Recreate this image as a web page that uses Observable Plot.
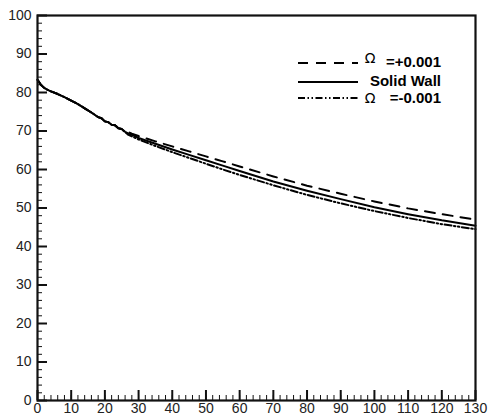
<!DOCTYPE html>
<html>
<head>
<meta charset="utf-8">
<script src="https://cdn.jsdelivr.net/npm/d3@7"></script>
<script src="https://cdn.jsdelivr.net/npm/@observablehq/plot@0.6"></script>
<style>
  html, body { margin: 0; padding: 0; background: #fff; }
  #chart { position: relative; width: 488px; height: 419px; }
</style>
</head>
<body>
<div id="chart"></div>
<script>
// Streamwise positions shared by all three profiles
const xs = [0, 1, 2, 3, 4, 6, 8, 10, 12, 14, 16, 18, 19, 20, 21, 22, 23, 24, 25,
            26, 27, 28, 30, 35, 40, 45, 50, 55, 60, 70, 80, 90, 100, 110, 120, 130];

// Profiles: Ω = +0.001, solid wall, Ω = -0.001
const omegaPlus = [83.3, 82.0, 81.2, 80.7, 80.3, 79.6, 78.8, 77.9, 77.0, 75.9, 74.8, 73.6, 73.3, 72.5, 72.3, 71.6, 71.5, 70.7, 70.5,
                   70.0, 69.7, 69.3, 68.7, 67.3, 66.0, 64.7, 63.4, 62.1, 60.8, 58.2, 55.8, 53.7, 51.7, 49.9, 48.4, 47.0];
const solidWall = [83.3, 82.0, 81.2, 80.7, 80.3, 79.6, 78.8, 77.9, 77.0, 75.9, 74.8, 73.6, 73.3, 72.5, 72.3, 71.6, 71.5, 70.7, 70.5,
                   69.8, 69.3, 69.0, 68.2, 66.7, 65.2, 63.8, 62.4, 61.0, 59.6, 56.9, 54.5, 52.3, 50.2, 48.4, 46.8, 45.4];
const omegaMinus = [83.3, 82.0, 81.2, 80.7, 80.3, 79.6, 78.8, 77.9, 77.0, 75.9, 74.8, 73.6, 73.3, 72.5, 72.3, 71.6, 71.5, 70.7, 70.5,
                    69.7, 69.0, 68.6, 67.8, 66.1, 64.5, 63.0, 61.5, 60.0, 58.6, 55.9, 53.4, 51.2, 49.2, 47.4, 45.8, 44.5];

const xTicks = d3.range(0, 131, 10);
const yTicks = d3.range(0, 101, 10);
const xMinor = d3.range(0, 131, 2);
const yMinor = d3.range(0, 101, 2);

const dashPlus = "10,8";
const dashMinus = "7,2.5,1.5,2.5,1.5,2.5";

// legend rows: sample line y, text baseline, Ω baseline (if any)
const legendItems = [
  {text: "=+0.001", dash: dashPlus, lineY: 63, textY: 67, omegaY: 63},
  {text: "Solid Wall", dash: null, lineY: 82, textY: 86, omegaY: null},
  {text: "=-0.001", dash: dashMinus, lineY: 98, textY: 103, omegaY: 103}
];

const series = [
  {ys: omegaPlus, dash: dashPlus},
  {ys: solidWall, dash: null},
  {ys: omegaMinus, dash: dashMinus}
];

const W = 488, H = 419;
const M = {top: 15, right: 13, bottom: 19, left: 37};
const plotH = H - M.top - M.bottom;
const plotW = W - M.left - M.right;

const lineMarks = series.map(s =>
  Plot.line(xs.map((x, i) => ({x, y: s.ys[i]})), {
    x: "x", y: "y", stroke: "#000", strokeWidth: 2,
    strokeDasharray: s.dash, strokeLinejoin: "round"
  })
);

const chart = Plot.plot({
  width: W, height: H,
  marginTop: M.top, marginRight: M.right, marginBottom: M.bottom, marginLeft: M.left,
  style: {fontFamily: "'Liberation Sans', Arial, sans-serif", fontSize: "14px", background: "#fff"},
  x: {domain: [0, 130]},
  y: {domain: [0, 100]},
  marks: [
    // inward tick marks
    Plot.ruleX(xMinor, {x: d => d, insetTop: plotH - 5, stroke: "#111", strokeWidth: 1}),
    Plot.ruleX(xTicks, {x: d => d, insetTop: plotH - 10, stroke: "#111", strokeWidth: 2}),
    Plot.ruleY(yMinor, {y: d => d, insetRight: plotW - 5, stroke: "#111", strokeWidth: 1}),
    Plot.ruleY(yTicks, {y: d => d, insetRight: plotW - 10, stroke: "#111", strokeWidth: 2}),
    Plot.axisX({ticks: xTicks, tickSize: 0, tickPadding: 3, label: null, fill: "#222", fontSize: 14}),
    Plot.axisY({ticks: yTicks, tickSize: 0, tickPadding: 6, label: null, fill: "#222", fontSize: 14}),
    ...lineMarks,
    Plot.frame({stroke: "#111", strokeWidth: 2.2})
  ]
});

document.getElementById("chart").appendChild(chart);

// Legend in the upper right of the frame
const svg = d3.select(chart);
const lg = svg.append("g").attr("font-family", "'Liberation Sans', Arial, sans-serif");
legendItems.forEach(d => {
  lg.append("line")
    .attr("x1", 298).attr("x2", 358).attr("y1", d.lineY).attr("y2", d.lineY)
    .attr("stroke", "#000").attr("stroke-width", 2)
    .attr("stroke-dasharray", d.dash);
  lg.append("text")
    .attr("x", 441).attr("y", d.textY)
    .attr("text-anchor", "end")
    .attr("font-size", 15).attr("font-weight", "bold").attr("fill", "#000")
    .text(d.text);
  if (d.omegaY != null) {
    lg.append("text")
      .attr("x", 370).attr("y", d.omegaY)
      .attr("text-anchor", "middle")
      .attr("font-family", "'DejaVu Sans', sans-serif")
      .attr("font-size", 14).attr("fill", "#000")
      .text("Ω");
  }
});
</script>
</body>
</html>
